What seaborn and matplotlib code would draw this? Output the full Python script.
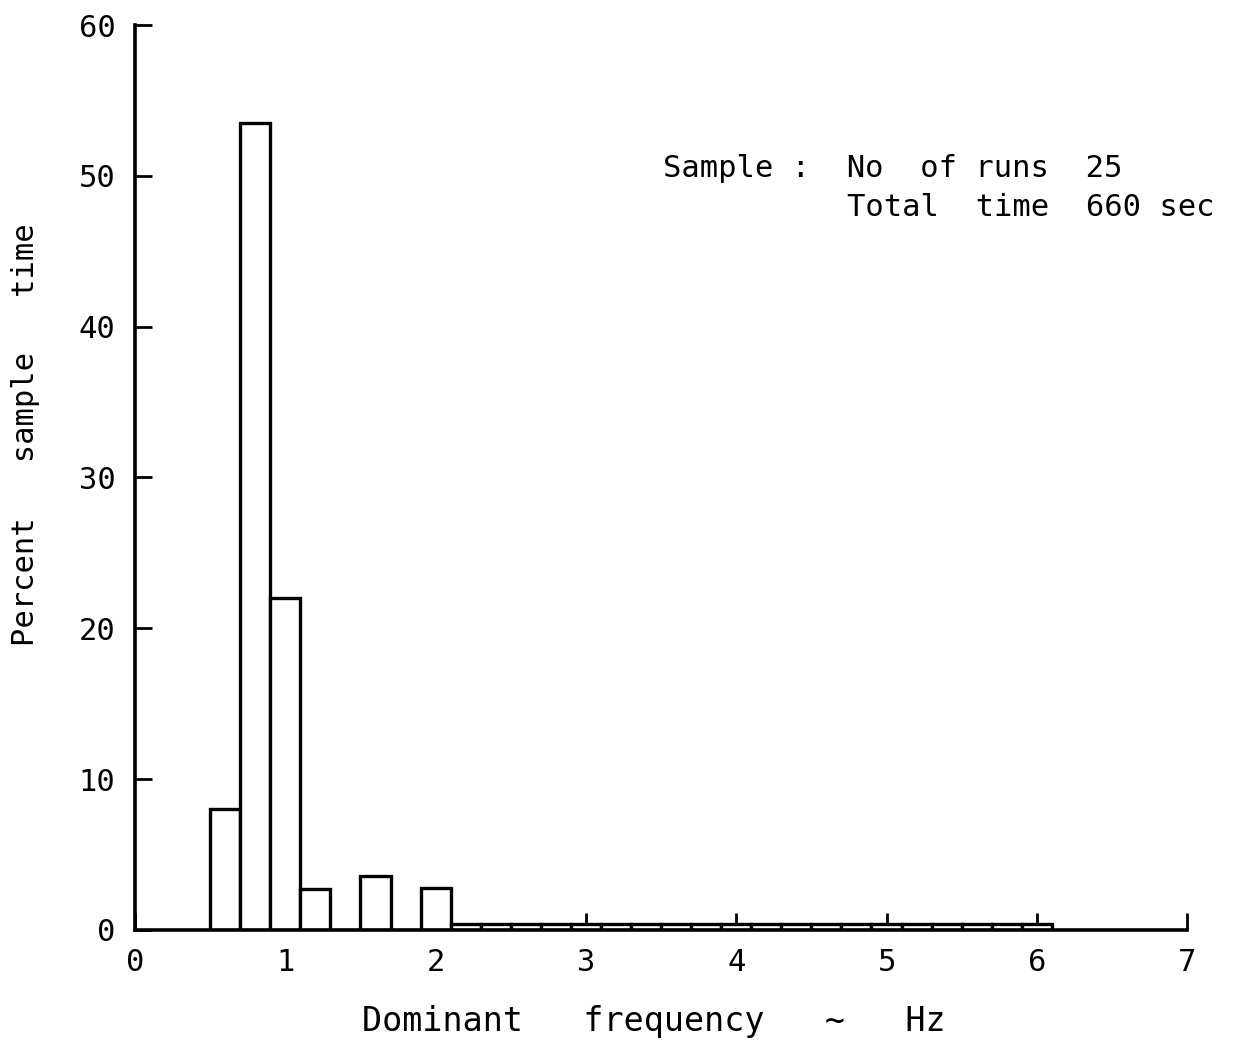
import numpy as np
import matplotlib
matplotlib.use("Agg")
import matplotlib.pyplot as plt
import seaborn as sns

# bin edges (Hz) of the histogram, 0.2 Hz wide, from 0.5 to 6.1
bin_left = [0.5, 0.7, 0.9, 1.1, 1.3, 1.5, 1.7, 1.9,
            2.1, 2.3, 2.5, 2.7, 2.9, 3.1, 3.3, 3.5, 3.7, 3.9,
            4.1, 4.3, 4.5, 4.7, 4.9, 5.1, 5.3, 5.5, 5.7, 5.9]
bin_width = 0.2
# percent of sample time in each bin
percent_time = [8.0, 53.5, 22.0, 2.7, 0.0, 3.6, 0.0, 2.8,
                0.4, 0.4, 0.4, 0.4, 0.4, 0.4, 0.4, 0.4, 0.4, 0.4,
                0.4, 0.4, 0.4, 0.4, 0.4, 0.4, 0.4, 0.4, 0.4, 0.4]

x_ticks = [0, 1, 2, 3, 4, 5, 6, 7]
y_ticks = [0, 10, 20, 30, 40, 50, 60]

sns.set_style("white", {"axes.edgecolor": "black", "text.color": "black",
                        "axes.labelcolor": "black", "xtick.color": "black",
                        "ytick.color": "black"})
# lettering-template look: monospaced letters
plt.rcParams['font.family'] = ['DejaVu Sans Mono', 'DejaVu Sans']

fig = plt.figure(figsize=(12.34, 10.46), dpi=100)
ax = fig.add_axes([0.1094, 0.111, 0.8526, 0.865])

centres = [b + bin_width / 2 for b in bin_left]
edges = bin_left + [bin_left[-1] + bin_width]
sns.histplot(x=centres, weights=percent_time, bins=edges, ax=ax,
             color="white", edgecolor="black", linewidth=2.4, alpha=1)

ax.set_xlim(0, 7)
ax.set_ylim(0, 60)
ax.set_xticks(x_ticks)
ax.set_yticks(y_ticks)
ax.tick_params(direction="in", length=12, width=2, labelsize=22,
               bottom=True, left=True, colors="black")
ax.tick_params(axis="x", pad=13)
ax.tick_params(axis="y", pad=14)

sns.despine(ax=ax)
for s in ["left", "bottom"]:
    ax.spines[s].set_linewidth(2.6)
    ax.spines[s].set_color("black")

ax.set_xlabel("Dominant   frequency   \u223c   Hz", fontsize=24, color="black")
ax.set_ylabel("Percent   sample   time", fontsize=22, color="black")
ax.xaxis.set_label_coords(0.493, -0.083)
ax.yaxis.set_label_coords(-0.09, 0.547)

ax.text(3.51, 50.5, "Sample :  No  of runs  25", fontsize=22,
        va="center", color="black")
ax.text(4.74, 47.9, "Total  time  660 sec", fontsize=22,
        va="center", color="black")

fig.savefig("out.png", dpi=100)
